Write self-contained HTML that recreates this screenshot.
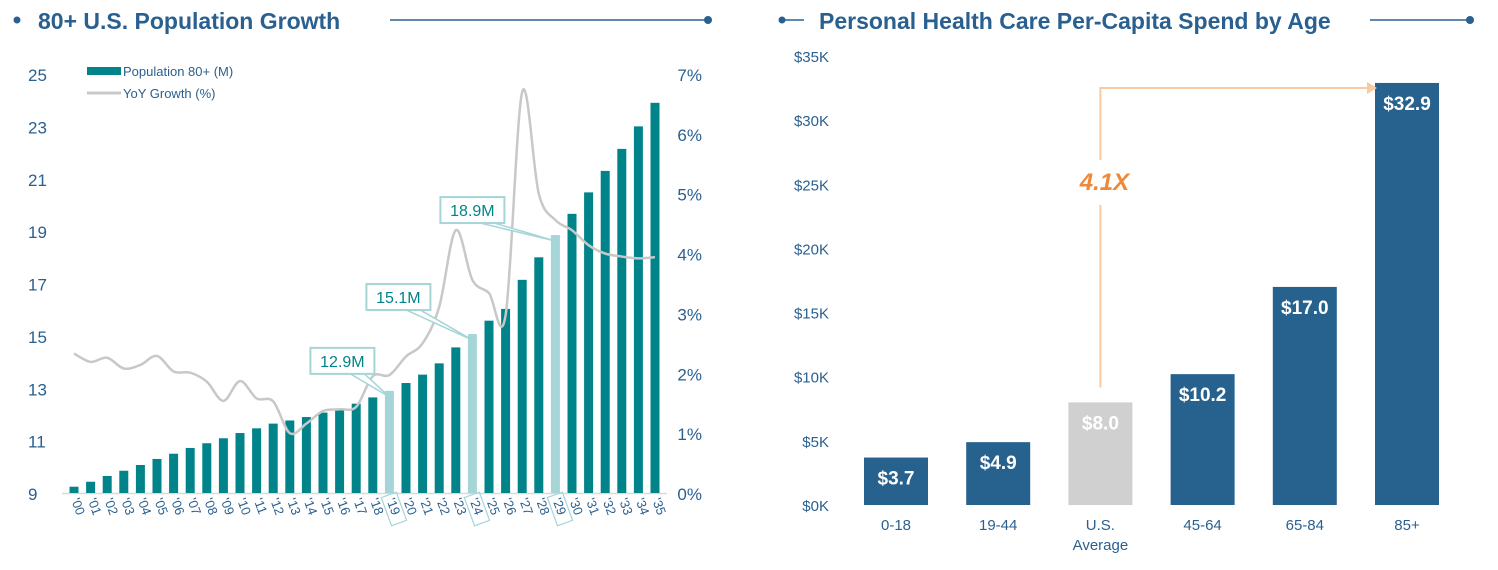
<!DOCTYPE html>
<html><head><meta charset="utf-8"><style>
html,body{margin:0;padding:0;background:#fff;}
svg{display:block;font-family:"Liberation Sans",Arial,sans-serif;}
</style></head><body>
<svg id="c" width="1498" height="570" viewBox="0 0 1498 570">
<g>
<circle cx="17" cy="20" r="3.5" fill="#2a6090"/>
<text x="38" y="29" font-size="23" font-weight="bold" fill="#2a6090">80+ U.S. Population Growth</text>
<line x1="390" y1="20" x2="708" y2="20" stroke="#2a6090" stroke-width="1.5"/>
<circle cx="708" cy="20" r="4" fill="#2a6090"/>
</g>
<g>
<circle cx="782" cy="20" r="3.5" fill="#2a6090"/>
<line x1="782" y1="20" x2="804" y2="20" stroke="#2a6090" stroke-width="1.5"/>
<text x="819" y="29" font-size="23" font-weight="bold" fill="#2a6090">Personal Health Care Per-Capita Spend by Age</text>
<line x1="1370" y1="20" x2="1470" y2="20" stroke="#2a6090" stroke-width="1.5"/>
<circle cx="1470" cy="20" r="4" fill="#2a6090"/>
</g>
<g id="left"></g>
<g id="right"></g>
</svg>
<script>
const years=["'00","'01","'02","'03","'04","'05","'06","'07","'08","'09","'10","'11","'12","'13","'14","'15","'16","'17","'18","'19","'20","'21","'22","'23","'24","'25","'26","'27","'28","'29","'30","'31","'32","'33","'34","'35"];
const population=[9.24,9.43,9.65,9.85,10.07,10.3,10.5,10.72,10.9,11.09,11.29,11.47,11.65,11.77,11.9,12.07,12.18,12.41,12.65,12.9,13.2,13.52,13.95,14.56,15.07,15.58,16.03,17.14,18.0,18.85,19.66,20.48,21.3,22.14,23.0,23.9];
const growth=[2.33,2.19,2.26,2.08,2.14,2.29,2.03,2.01,1.86,1.54,1.87,1.58,1.53,1.0,1.16,1.37,1.40,1.44,1.95,1.97,2.28,2.5,3.11,4.39,3.56,3.34,2.97,6.7,5.0,4.56,4.39,4.14,4.0,3.95,3.92,3.94];
const highlightYears=["'19","'24","'29"];
const calloutLabels=["12.9M","15.1M","18.9M"];
const leftTicks=[9,11,13,15,17,19,21,23,25];
const rightTicks=[0,1,2,3,4,5,6,7];
const ages=["0-18","19-44","U.S.","45-64","65-84","85+"];
const spend=[3.7,4.9,8.0,10.2,17.0,32.9];
const spendLabels=["$3.7","$4.9","$8.0","$10.2","$17.0","$32.9"];
const spendTicks=[0,5,10,15,20,25,30,35];
const multipleLabel="4.1X";

const NS="http://www.w3.org/2000/svg";
function mk(tag,attrs,parent,text){const e=document.createElementNS(NS,tag);for(const k in attrs)e.setAttribute(k,attrs[k]);if(text!==undefined)e.textContent=text;parent.appendChild(e);return e;}
const Lg=document.getElementById('left'),Rg=document.getElementById('right');
const TEAL="#00848a",LT="#a6d5d8",BLUE="#2a6090",NAVY="#27628f";
const yL=v=>493-(v-9)*(419/16);
const yR=v=>493-v*(419/7);
const xB=i=>74+i*(581/35);
leftTicks.forEach(t=>{const e=mk('text',{x:28,y:yL(t)+7,'font-size':17,fill:BLUE,'text-anchor':'start'},Lg,String(t));

});
rightTicks.forEach(t=>{const e=mk('text',{x:702,y:yR(t)+7,'font-size':17,fill:BLUE,'text-anchor':'end'},Lg,t+'%');

});
mk('line',{x1:62,y1:493.5,x2:667,y2:493.5,stroke:'#d9d9d9','stroke-width':1.5},Lg);
years.forEach((yy,i)=>{
const hi=highlightYears.includes(yy);
const b=mk('rect',{x:xB(i)-4.5,y:yL(population[i]),width:9,height:493-yL(population[i]),fill:hi?LT:TEAL},Lg);


const tx=xB(i)-3,ty=500;
const t=mk('text',{x:tx,y:ty,'font-size':13,fill:BLUE,transform:`rotate(70 ${tx} ${ty})`},Lg,yy);


if(hi){const r=mk('rect',{x:tx-4,y:ty-12,width:30,height:16,fill:'none',stroke:LT,'stroke-width':1.2,transform:`rotate(70 ${tx} ${ty})`},Lg);

}
});
const pts=growth.map((g,i)=>[xB(i),yR(g)]);
let d=`M${pts[0][0]},${pts[0][1]}`;
for(let i=0;i<pts.length-1;i++){const p0=pts[Math.max(i-1,0)],p1=pts[i],p2=pts[i+1],p3=pts[Math.min(i+2,pts.length-1)];
d+=` C${p1[0]+(p2[0]-p0[0])/6},${p1[1]+(p2[1]-p0[1])/6} ${p2[0]-(p3[0]-p1[0])/6},${p2[1]-(p3[1]-p1[1])/6} ${p2[0]},${p2[1]}`;}
const gl=mk('path',{d:d,fill:'none',stroke:'#c8c8c8','stroke-width':2.5},Lg);


const calloutDx=[-47,-74,-83],calloutDy=[-30,-37,-25];
highlightYears.forEach((hy,k)=>{const i=years.indexOf(hy);const bx=xB(i),by=yL(population[i]);
const w=64,h=26,cx=bx+calloutDx[k],cy=by+calloutDy[k];
const g=mk('g',{},Lg);


mk('polygon',{points:`${cx+8},${cy+h/2} ${cx+22},${cy+h/2} ${bx},${by+6}`,fill:'#fff',stroke:LT,'stroke-width':1.5},g);
mk('rect',{x:cx-w/2,y:cy-h/2,width:w,height:h,fill:'#fff',stroke:LT,'stroke-width':2},g);
mk('text',{x:cx,y:cy+6,'font-size':16,fill:TEAL,'text-anchor':'middle'},g,calloutLabels[k]);});
const lg=mk('g',{},Lg);


mk('rect',{x:87,y:67,width:34,height:8,fill:TEAL},lg);
mk('text',{x:123,y:76,'font-size':13,fill:BLUE},lg,'Population 80+ (M)');
mk('line',{x1:87,y1:93,x2:121,y2:93,stroke:'#c8c8c8','stroke-width':3},lg);
mk('text',{x:123,y:98,'font-size':13,fill:BLUE},lg,'YoY Growth (%)');
const yS=v=>505-v*(449/35);
const xS=i=>896+i*102.2;
spendTicks.forEach(t=>{const e=mk('text',{x:829,y:yS(t)+6,'font-size':15,fill:BLUE,'text-anchor':'end'},Rg,'$'+t+'K');

});
ages.forEach((a,i)=>{const gray=a==="U.S.";
const b=mk('rect',{x:xS(i)-32,y:yS(spend[i]),width:64,height:505-yS(spend[i]),fill:gray?'#d0d0d0':NAVY},Rg);


const v=mk('text',{x:xS(i),y:yS(spend[i])+27,'font-size':19,'font-weight':'bold',fill:'#fff','text-anchor':'middle'},Rg,spendLabels[i]);


const t=mk('text',{x:xS(i),y:530,'font-size':15,fill:BLUE,'text-anchor':'middle'},Rg,a);


if(gray){const t2=mk('text',{x:xS(i),y:550,'font-size':15,fill:BLUE,'text-anchor':'middle'},Rg,'Average');

}});
const ax=xS(2),arrowTop=88;
const arr=mk('g',{},Rg);


mk('path',{d:`M${ax},${yS(spend[2])-15} L${ax},205 M${ax},160 L${ax},${arrowTop} L${xS(5)-40},${arrowTop}`,fill:'none',stroke:'#f9c9a0','stroke-width':2},arr);
mk('polygon',{points:`${xS(5)-40},${arrowTop-6} ${xS(5)-30},${arrowTop} ${xS(5)-40},${arrowTop+6}`,fill:'#f9c9a0'},arr);
const m=mk('text',{x:ax+4,y:190,'font-size':24,'font-weight':'bold','font-style':'italic',fill:'#f0883a','text-anchor':'middle'},Rg,multipleLabel);


</script>
</body></html>
